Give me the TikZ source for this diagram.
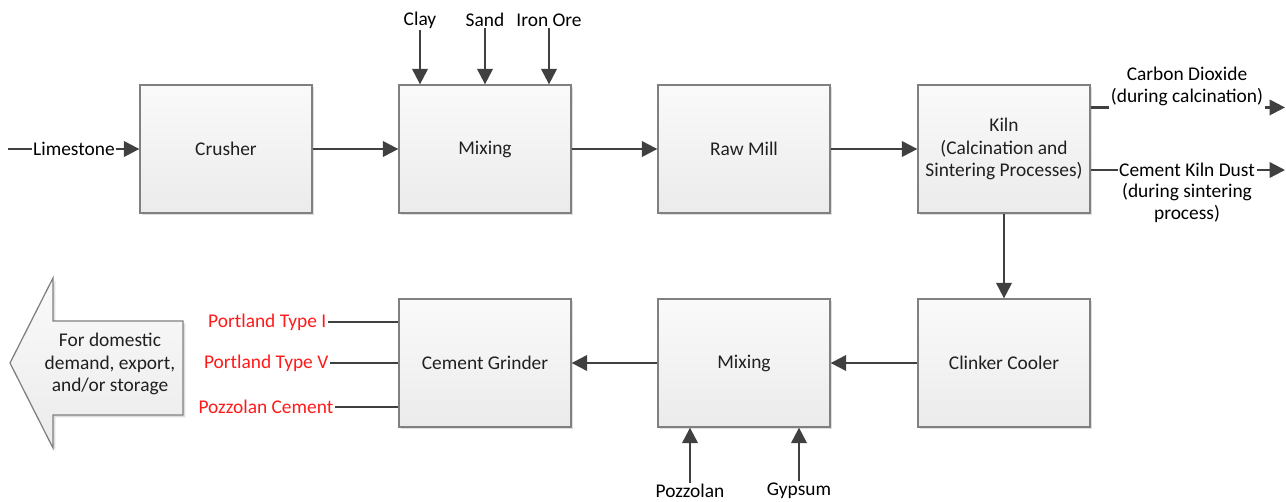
\documentclass[tikz,border=0pt]{standalone}
\usepackage{fontspec}
\setmainfont{Carlito}
\usetikzlibrary{arrows.meta,shadows,positioning}
\definecolor{boxline}{HTML}{808080}
\definecolor{boxtop}{HTML}{FAFAFA}
\definecolor{boxfill}{HTML}{EBEBEB}
\definecolor{arr}{HTML}{404040}
\definecolor{txt}{HTML}{202020}
\definecolor{prod}{HTML}{FF1A1A}

\begin{document}
\begin{tikzpicture}[x=0.025cm,y=-0.025cm,
  font=\fontsize{13.8}{16}\selectfont,
  stage/.style={draw=boxline,line width=0.9pt,top color=boxtop,bottom color=boxfill,
    minimum width=4.3cm,minimum height=3.2cm,inner sep=2pt,align=center,text=txt,
    drop shadow={shadow xshift=1.6pt,shadow yshift=-1.6pt,opacity=0.25,fill=gray}},
  flow/.style={draw=arr,line width=1.6pt,-{Triangle[length=11pt,width=11pt]}},
  feed/.style={draw=arr,line width=1.6pt},
  lbl/.style={inner sep=1pt,align=center,text=black},
  product/.style={inner sep=1pt,text=prod}]
\useasboundingbox (0,0) rectangle (1286,501);

% process boxes
\node[stage] (crusher) at (226,149) {Crusher};
\node[stage] (mixa) at (485,149) {Mixing};
\node[stage] (rawmill) at (744,149) {Raw Mill};
\node[stage] (kiln) at (1004,149) {Kiln\\(Calcination and\\Sintering Processes)};
\node[stage] (cooler) at (1004,363) {Clinker Cooler};
\node[stage] (mixb) at (744,363) {Mixing};
\node[stage] (grinder) at (485,363) {Cement Grinder};

% inputs
\coordinate (start) at (8,149);
\node[lbl] (limestone) at (74,149) {Limestone};
\node[lbl] (clay) at (420,20) {Clay};
\node[lbl] (sand) at (485,20) {Sand};
\node[lbl] (ironore) at (549,20) {Iron Ore};
\node[lbl] (pozzolan) at (690,491) {Pozzolan};
\node[lbl] (gypsum) at (799,491) {Gypsum};

% outputs of the kiln
\coordinate (rightedge) at (1285,0);
\node[lbl] (co2) at (1187,74) {Carbon Dioxide};
\node[lbl] (calc) at (1187,97) {(during calcination)};
\node[lbl] (ckd) at (1187,170) {Cement Kiln Dust};
\node[lbl] (sinter) at (1187,203) {(during sintering\\process)};

% products
\node[product,anchor=east] (typeI) at (328,322) {Portland Type I};
\node[product,anchor=east] (typeV) at (330,363) {Portland Type V};
\node[product,anchor=east] (pozcem) at (335,407) {Pozzolan Cement};

\draw[feed] (start) -- (limestone);
\draw[flow] (limestone) -- (crusher);
\draw[flow] (crusher) -- (mixa);
\draw[flow] (mixa) -- (rawmill);
\draw[flow] (rawmill) -- (kiln);
\draw[flow] (kiln) -- (cooler);
\draw[flow] (cooler) -- (mixb);
\draw[flow] (mixb) -- (grinder);

\draw[flow] (clay) -- (clay |- mixa.north);
\draw[flow] (sand) -- (sand |- mixa.north);
\draw[flow] (ironore) -- (ironore |- mixa.north);
\draw[flow] (pozzolan) -- (pozzolan |- mixb.south);
\draw[flow] (gypsum) -- (gypsum |- mixb.south);

\draw[feed] (kiln.east |- calc.south west) -- (calc.south west);
\draw[flow] (calc.south east) -- (calc.south east -| rightedge);
\draw[feed] (kiln.east |- ckd.west) -- (ckd.west);
\draw[flow] (ckd.east) -- (ckd.east -| rightedge);

\draw[feed] (typeI) -- (typeI -| grinder.west);
\draw[feed] (typeV) -- (typeV -| grinder.west);
\draw[feed] (pozcem) -- (pozcem -| grinder.west);

% big arrow
\draw[boxline,line width=0.9pt,top color=boxtop,bottom color=boxfill,
  drop shadow={shadow xshift=1.6pt,shadow yshift=-1.6pt,opacity=0.25,fill=gray}]
  (183,321) -- (53,321) -- (53,278) -- (10,363) -- (53,448) -- (53,415) -- (183,415) -- cycle;
\node[lbl,text=txt] (demand) at (110,364) {For domestic\\demand, export,\\and/or storage};

\end{tikzpicture}
\end{document}
